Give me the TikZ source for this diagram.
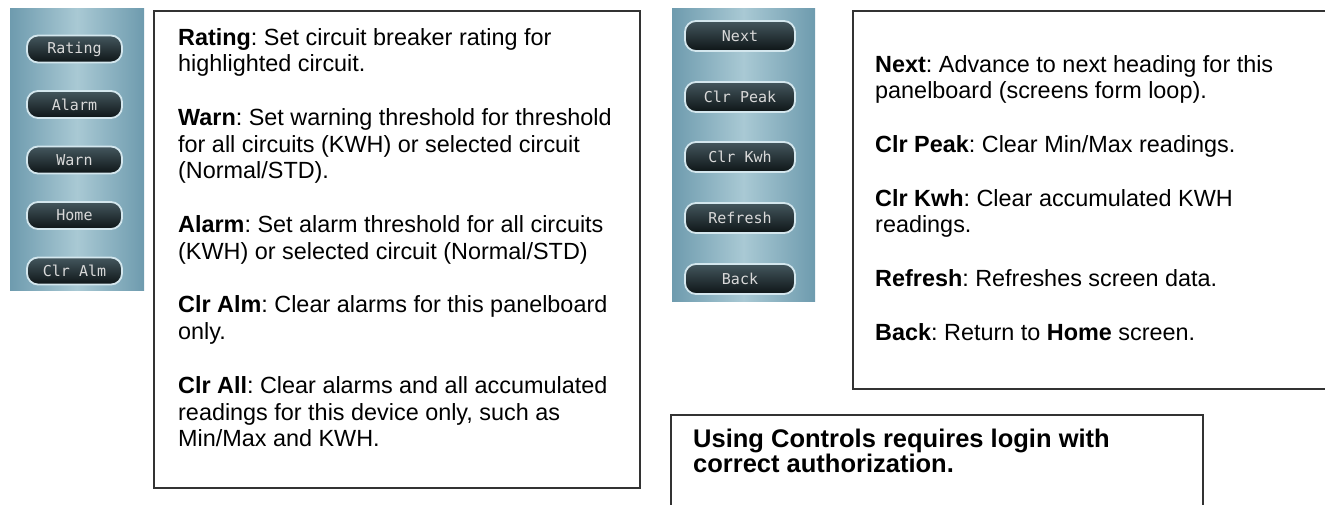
\documentclass[tikz,border=0pt]{standalone}
\usepackage{fontspec}
\setmainfont{Liberation Sans}
\newfontfamily\keyfont{DejaVu Sans Mono}
\usetikzlibrary{positioning}

\definecolor{panelblue}{HTML}{6E9BAE}
\definecolor{panellight}{HTML}{A9C9D4}
\definecolor{keydark}{HTML}{0E1517}
\definecolor{keygrey}{HTML}{44575E}
\definecolor{keyrim}{HTML}{D4E7EE}
\tikzset{
	keystrip/.style={left color=panelblue, right color=panelblue, middle color=panellight},
	softkey/.style={rounded corners=11pt, draw=keyrim, line width=1.8pt, top color=keygrey, bottom color=keydark,
		text=black!15, font=\keyfont\fontsize{15}{15}\selectfont, inner sep=0pt},
	leftkey/.style={softkey, minimum width=95pt, minimum height=27pt},
	rightkey/.style={softkey, minimum width=110pt, minimum height=30pt},
	notebox/.style={draw=black!80, line width=1.8pt, fill=white, anchor=north west, inner sep=0pt},
	notetext/.style={align=left, anchor=north west, inner sep=0pt, font=\frenchspacing\fontsize{23.4}{26.7}\selectfont}
}

\begin{document}
\begin{tikzpicture}[x=1pt, y=-1pt]
	\useasboundingbox (0,0) rectangle (1325,505);
	\clip (0,0) rectangle (1325,505);

	% panelboard keys
	\fill[keystrip] (10,9) rectangle (144,290);
	\node[leftkey] (rating) at (74.5,49) {Rating};
	\node[leftkey] (alarm) at (74.5,104.5) {Alarm};
	\node[leftkey] (warn) at (74.5,160) {Warn};
	\node[leftkey] (home) at (74.5,215.5) {Home};
	\node[leftkey] (clralm) at (74.5,271) {Clr Alm};

	\node[notebox, minimum width=486pt, minimum height=477pt] (leftnote) at (153,10) {};
	\node[notetext] (lefttext) at (178,27.9) {%
		\textbf{Rating}: Set circuit breaker rating for\\
		highlighted circuit.\\[27pt]
		\textbf{Warn}: Set warning threshold for threshold\\
		for all circuits (KWH) or selected circuit\\
		(Normal/STD).\\[27pt]
		\textbf{Alarm}: Set alarm threshold for all circuits\\
		(KWH) or selected circuit (Normal/STD)\\[27pt]
		\textbf{Clr Alm}: Clear alarms for this panelboard\\
		only.\\[27pt]
		\textbf{Clr All}: Clear alarms and all accumulated\\
		readings for this device only, such as\\
		Min/Max and KWH.};

	% heading keys
	\fill[keystrip] (672,9) rectangle (815,301);
	\node[rightkey] (next) at (740,36) {Next};
	\node[rightkey] (clrpeak) at (740,97) {Clr Peak};
	\node[rightkey] (clrkwh) at (740,157) {Clr Kwh};
	\node[rightkey] (refresh) at (740,218) {Refresh};
	\node[rightkey] (back) at (740,279) {Back};

	\node[notebox, minimum width=520pt, minimum height=378pt] (rightnote) at (852,10) {};
	\node[notetext] (righttext) at (875,54.9) {%
		\textbf{Next}: Advance to next heading for this\\
		panelboard (screens form loop).\\[27pt]
		\textbf{Clr Peak}: Clear Min/Max readings.\\[27pt]
		\textbf{Clr Kwh}: Clear accumulated KWH\\
		readings.\\[27pt]
		\textbf{Refresh}: Refreshes screen data.\\[27pt]
		\textbf{Back}: Return to \textbf{Home} screen.};

	% login note
	\node[notebox, minimum width=532pt, minimum height=120pt] (loginnote) at (670,414) {};
	\node[notetext, font=\frenchspacing\bfseries\fontsize{25.5}{25}\selectfont] (logintext) at (693,428.4) {%
		Using Controls requires login with\\
		correct authorization.};
\end{tikzpicture}
\end{document}
